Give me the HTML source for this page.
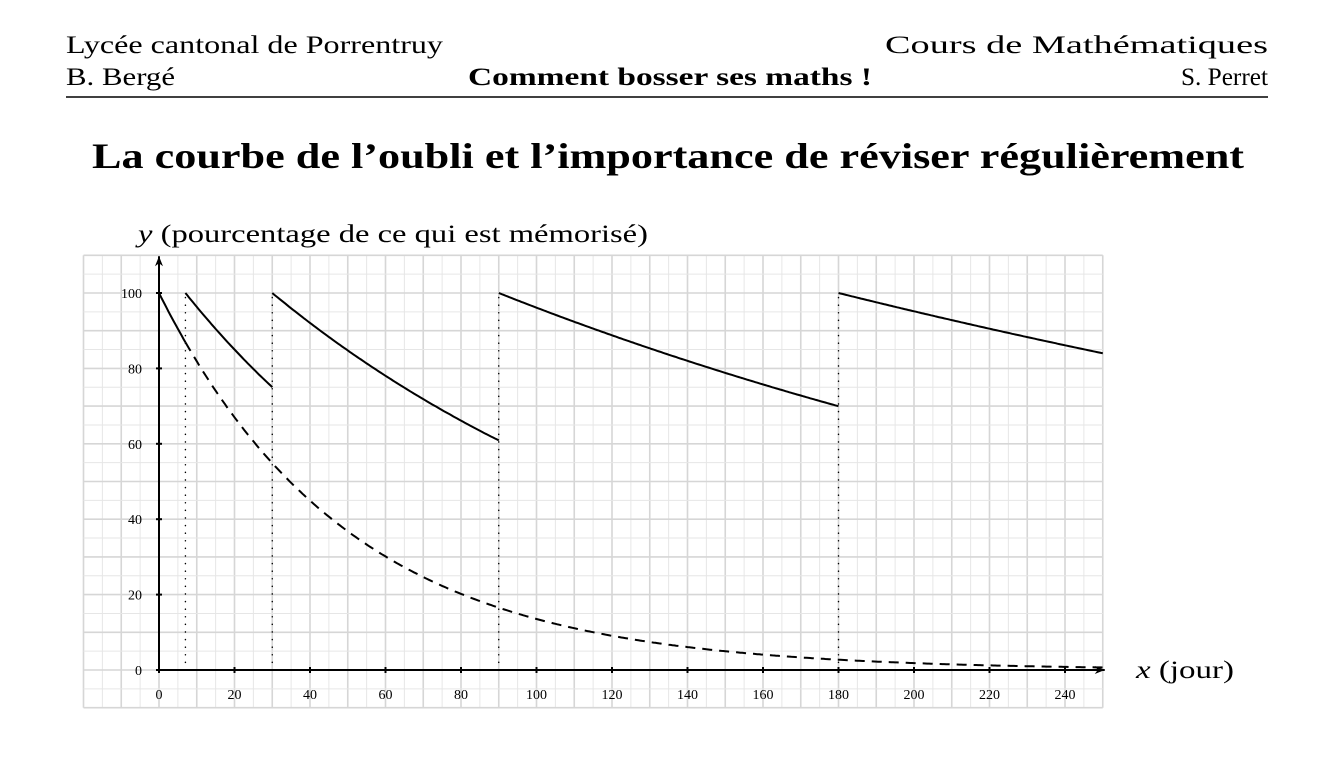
<!DOCTYPE html>
<html><head><meta charset="utf-8"><style>
body{margin:0;background:#fff;width:1336px;height:764px;overflow:hidden;font-family:"Liberation Serif",serif;}
svg{position:absolute;left:0;top:0}
</style></head><body>
<svg width="1336" height="764" viewBox="0 0 1336 764" xmlns="http://www.w3.org/2000/svg" font-family="Liberation Serif, serif">
<text x="66" y="53" font-size="25" textLength="377" lengthAdjust="spacingAndGlyphs">Lycée cantonal de Porrentruy</text>
<text x="885" y="53" font-size="25" textLength="383" lengthAdjust="spacingAndGlyphs">Cours de Mathématiques</text>
<text x="66" y="85" font-size="25" textLength="109" lengthAdjust="spacingAndGlyphs">B. Bergé</text>
<text x="468" y="85" font-size="25" font-weight="bold" textLength="404" lengthAdjust="spacingAndGlyphs">Comment bosser ses maths !</text>
<text x="1181" y="85" font-size="25" textLength="87" lengthAdjust="spacingAndGlyphs">S. Perret</text>
<line x1="66" y1="97" x2="1268" y2="97" stroke="#000" stroke-width="1.5"/>
<text x="92" y="168" font-size="36" font-weight="bold" textLength="1152" lengthAdjust="spacingAndGlyphs">La courbe de l’oubli et l’importance de réviser régulièrement</text>
<text x="138" y="242" font-size="25" textLength="510" lengthAdjust="spacingAndGlyphs"><tspan font-style="italic">y</tspan> (pourcentage de ce qui est mémorisé)</text>
<text x="1136" y="678" font-size="25" textLength="98" lengthAdjust="spacingAndGlyphs"><tspan font-style="italic">x</tspan> (jour)</text>
<g id="grid"></g>
<g id="plot"></g>
</svg>
<script>
var X=function(x){return 159+3.775*x},Y=function(y){return 670-3.77*y};
var g='';
for(var x=-20;x<=250;x+=5){var maj=x%10==0;g+='<line x1="'+X(x)+'" y1="'+Y(110)+'" x2="'+X(x)+'" y2="'+Y(-10)+'" stroke="'+(maj?'#d6d6d6':'#e6e6e6')+'" stroke-width="'+(maj?1.6:1)+'"/>';}
for(var y=-10;y<=110;y+=5){var maj=y%10==0;g+='<line x1="'+X(-20)+'" y1="'+Y(y)+'" x2="'+X(250)+'" y2="'+Y(y)+'" stroke="'+(maj?'#d6d6d6':'#e6e6e6')+'" stroke-width="'+(maj?1.6:1)+'"/>';}
document.getElementById('grid').innerHTML=g;
var p='';
[7,30,90,180].forEach(function(v){p+='<line x1="'+X(v)+'" y1="'+Y(0)+'" x2="'+X(v)+'" y2="'+Y(100)+'" stroke="#000" stroke-width="1.5" stroke-dasharray="0.1 7.5" stroke-linecap="round"/>';});
p+='<line x1="'+X(0)+'" y1="'+Y(0)+'" x2="'+(X(250)+2)+'" y2="'+Y(0)+'" stroke="#000" stroke-width="2"/>';
p+='<path d="M'+(X(250)+2)+' '+Y(0)+' l-10 -4 l3 4 l-3 4 z"/>';
p+='<line x1="'+X(0)+'" y1="'+Y(0)+'" x2="'+X(0)+'" y2="'+(Y(110)+1)+'" stroke="#000" stroke-width="2"/>';
p+='<path d="M'+X(0)+' '+(Y(110)+1)+' l-4 10 l4 -3 l4 3 z"/>';
for(var t=0;t<=240;t+=20){p+='<line x1="'+X(t)+'" y1="'+(Y(0)-3)+'" x2="'+X(t)+'" y2="'+(Y(0)+3)+'" stroke="#000" stroke-width="2"/><text x="'+X(t)+'" y="'+(Y(0)+29)+'" font-size="14" text-anchor="middle">'+t+'</text>';}
for(var t=0;t<=100;t+=20){p+='<line x1="'+(X(0)-3)+'" y1="'+Y(t)+'" x2="'+(X(0)+3)+'" y2="'+Y(t)+'" stroke="#000" stroke-width="2"/><text x="'+(X(0)-17)+'" y="'+(Y(t)+5)+'" font-size="14" text-anchor="end">'+t+'</text>';}
function seg(a,b,k,o){var d='';for(var x=a;x<=b+0.001;x+=0.5){d+=(x==a?'M':'L')+X(x).toFixed(1)+' '+Y(100*Math.exp(-(x-o)/k)).toFixed(1);}return d;}
function curve(a,b,k){return '<path d="'+seg(a,b,k,a)+'" fill="none" stroke="#000" stroke-width="2"/>';}
p+='<path d="'+seg(0,7,50,0)+'" fill="none" stroke="#000" stroke-width="2"/>';
p+='<path d="'+seg(7,250,50,0)+'" fill="none" stroke="#000" stroke-width="2" stroke-dasharray="10 7"/>';
p+=curve(7,30,80);p+=curve(30,90,121);p+=curve(90,180,252);p+=curve(180,250,402);
document.getElementById('plot').innerHTML=p;
</script>
</body></html>
